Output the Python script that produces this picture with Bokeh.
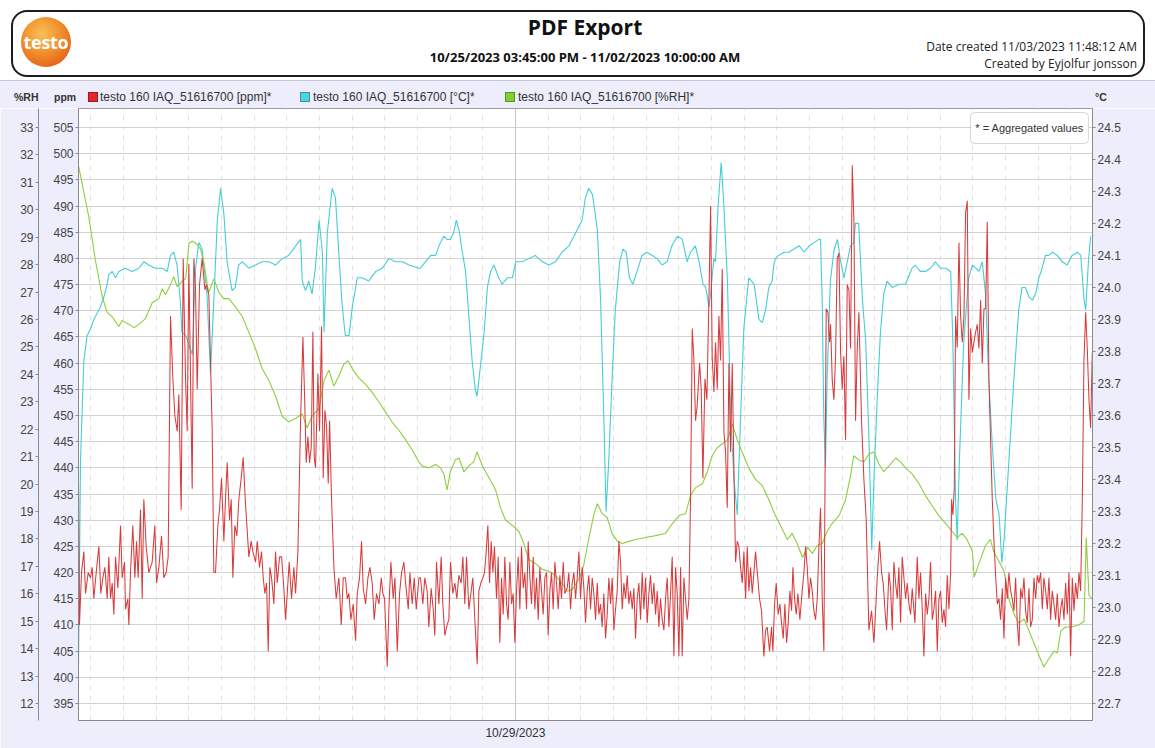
from bokeh.plotting import figure
from bokeh.models import (Range1d, LinearAxis, SingleIntervalTicker, FixedTicker,
                          PrintfTickFormatter, Label, BoxAnnotation, Div)
from bokeh.layouts import column
from bokeh.embed import file_html
from bokeh.resources import INLINE

# ---------------- data (x = hours since 10/25/2023 03:45 PM) ----------------
ppm_points = [
(0.0,437),(0.18,410),(0.55,420),(0.98,424),(1.29,416),(1.78,420),(2.2,419),(2.51,421),(2.82,415),(3.25,420),
(3.74,425),(4.1,416),(4.47,419),(4.84,421),(5.27,415),(5.57,423),(5.88,415),(6.19,418),(6.49,412),(6.8,423),
(7.23,417),(7.72,429),(8.02,419),(8.45,422),(8.64,413),(9.06,415),(9.25,410),(9.55,420),(9.98,429),(10.35,419),
(10.66,426),(10.96,419),(11.39,432),(11.7,415),(12.0,434),(12.43,425),(12.92,420),(13.53,422),(14.02,429),(14.33,418),
(14.76,421),(15.25,427),(15.68,419),(16.1,420),(16.47,423),(16.9,469),(17.33,457),(17.7,450),(18.13,447),(18.43,454),
(18.86,432),(19.23,480),(19.66,457),(19.96,447),(20.27,479),(20.58,457),(20.88,436),(21.19,480),(21.5,474),(21.8,455),
(22.23,475),(22.72,480),(23.21,474),(23.52,475),(23.94,473),(24.25,460),(24.56,447),(24.86,420),(25.17,420),(25.6,429),
(25.9,432),(26.27,438),(26.7,426),(27.0,434),(27.31,441),(27.74,430),(28.05,434),(28.35,419),(28.72,429),(29.09,427),
(29.46,434),(29.88,438),(30.25,442),(30.68,433),(30.99,428),(31.29,423),(31.72,426),(32.03,424),(32.52,422),(32.83,426),
(33.25,421),(33.62,424),(33.93,419),(34.23,416),(34.54,418),(34.85,405),(35.15,421),(35.46,419),(35.89,414),(36.19,424),
(36.5,418),(36.93,423),(37.3,423),(37.72,417),(38.03,411),(38.4,417),(38.7,422),(39.13,415),(39.56,421),(39.87,416),
(40.3,424),(40.79,449),(41.22,465),(41.52,454),(41.83,441),(42.13,446),(42.44,441),(42.75,444),(43.05,466),(43.3,442),
(43.54,440),(43.97,458),(44.28,447),(44.64,467),(44.95,438),(45.26,451),(45.56,448),(45.87,437),(46.12,449),(46.48,434),
(46.91,421),(47.34,415),(47.83,419),(48.26,410),(48.63,419),(49.05,419),(49.36,415),(49.67,416),(50.03,411),(50.46,414),
(50.89,407),(51.2,416),(51.62,419),(51.99,426),(52.3,417),(52.73,414),(53.16,419),(53.52,421),(53.95,418),(54.32,411),
(54.75,416),(55.18,414),(55.61,419),(55.91,416),(56.22,415),(56.71,402),(57.01,413),(57.38,422),(57.81,415),(58.12,419),
(58.55,405),(58.97,416),(59.34,420),(59.77,422),(60.08,418),(60.57,413),(60.87,420),(61.3,414),(61.67,419),(62.04,413),
(62.53,419),(62.82,419),(63.25,414),(63.61,419),(64.04,416.5),(64.35,409.6),(64.78,417),(65.15,413),(65.45,408),(65.76,422),
(66.19,414),(66.62,423),(66.92,414),(67.29,408),(67.72,410),(68.02,411),(68.33,422),(68.76,416),(69.13,418),(69.49,415),
(69.86,419.5),(70.29,418),(70.6,423),(70.96,414),(71.27,423),(71.7,413),(72.07,416),(72.43,419),(72.8,411),(73.23,402.5),
(73.54,416.5),(73.9,418),(74.27,419),(74.58,420),(74.88,424),(75.19,429),(75.5,418),(75.8,426),(76.11,420),(76.41,425),
(76.78,415),(77.09,423),(77.39,406.6),(77.7,419),(78.01,412),(78.31,423),(78.62,414),(78.92,411),(79.23,422),(79.54,414),
(79.84,416),(80.15,406.6),(80.46,416.5),(80.76,423),(81.07,413),(81.37,425),(81.68,417),(81.99,420),(82.29,413),(82.6,426),
(82.91,419),(83.21,414),(83.52,423),(83.82,413),(84.13,419),(84.44,411),(84.74,421),(85.05,416.5),(85.35,412),(85.66,419),
(85.97,420),(86.27,408),(86.58,416.5),(86.89,420),(87.19,413),(87.5,422),(87.8,418),(88.11,413),(88.42,419.5),(88.72,415),
(89.03,422),(89.34,416),(89.76,417),(90.07,420),(90.38,413),(90.68,418),(90.99,420),(91.3,415),(91.6,419),(91.91,424),
(92.21,415),(92.52,421),(92.83,417),(93.13,410.4),(93.44,416.5),(93.74,419.5),(94.05,413),(94.36,419),(94.66,416),(94.97,411),
(95.28,418),(95.58,412),(95.89,414),(96.19,409.6),(96.5,416),(96.81,407.4),(97.11,412),(97.42,419),(97.73,414),(98.03,419),
(98.34,409),(98.64,413),(98.95,416.5),(99.26,426),(99.56,422),(99.87,413),(100.18,418),(100.48,415),(100.79,419.5),(101.09,414),
(101.4,416.5),(101.71,413),(102.01,417),(102.32,407.4),(102.62,415),(102.93,418),(103.24,411),(103.54,420),(103.85,413),(104.16,419),
(104.46,410.4),(104.77,416),(105.07,419.5),(105.38,414),(105.69,418),(105.99,412),(106.3,416.5),(106.61,409.6),(106.91,415),(107.22,411),
(107.52,409),(107.83,415),(108.14,419),(108.44,409.6),(108.75,416),(109.05,423),(109.36,404),(109.67,421),(109.97,416),(110.28,404),
(110.59,421),(110.89,404),(111.2,419),(111.5,415),(111.81,411),(112.12,415),(112.42,434),(112.73,466.6),(113.04,460.5),(113.34,449),
(113.65,452),(114.08,460),(114.38,455),(114.69,438),(115.06,457),(115.42,453),(115.79,472),(116.1,490),(116.4,461),(116.71,454.5),
(117.01,464),(117.32,455),(117.63,469),(117.93,460.5),(118.24,478),(118.55,447),(118.85,443),(119.16,432.4),(119.47,460),(119.77,443),
(120.08,460),(120.38,440),(120.69,422),(121.0,426),(121.3,425),(121.61,421),(121.92,418),(122.22,424),(122.53,415),(122.83,425),
(123.14,416.5),(123.45,421),(123.75,416),(124.36,424),(125.09,415),(125.46,412.7),(125.89,404),(126.2,409),(126.5,409.6),(126.93,405),
(127.3,409.6),(127.54,405),(127.85,414),(128.16,418),(128.52,412),(128.83,414),(129.14,410.4),(129.44,407.4),(129.75,414),(130.06,406.6),
(130.36,410.4),(130.67,416.5),(130.97,412.7),(131.22,421),(131.53,415),(131.83,412),(132.14,416),(132.5,411),(132.93,416.5),(133.24,420),
(133.55,425),(133.85,421),(134.16,415),(134.46,419),(134.77,416.5),(135.08,412.7),(135.38,411),(135.69,415),(136.0,425),(136.3,432.4),
(136.61,415),(136.91,405),(137.1,434),(137.34,470.4),(137.65,469.7),(137.96,464),(138.14,467.4),(138.45,456.7),(138.75,453),(139.06,461.3),
(139.36,480),(139.67,481),(139.98,462),(140.28,455),(140.59,461.3),(140.89,445.3),(141.2,475),(141.51,474),(141.81,462.8),(142.12,497.8),
(142.43,487),(142.73,449),(143.04,462.8),(143.34,469.7),(143.83,449),(144.26,437.8),(144.69,430),(145.18,409),(145.67,412.7),(146.1,406.6),
(146.41,412.7),(146.71,419),(147.14,426),(147.51,420),(147.81,418),(148.12,413),(148.43,409),(148.86,420),(149.16,417),(149.47,409),
(149.77,422),(150.08,418),(150.39,415),(150.69,421),(151.0,410.4),(151.3,423),(151.61,419),(151.92,415),(152.22,418),(152.53,414),
(152.84,412),(153.14,417),(153.63,410.4),(154.06,423),(154.37,415),(154.67,420),(154.98,413),(155.29,404),(155.59,416),(155.9,412),
(156.2,415),(156.51,422),(156.82,411),(157.12,413),(157.43,416.5),(157.74,405),(158.04,415),(158.35,416.5),(158.65,410.4),(158.96,413),
(159.27,409.6),(159.57,419.5),(159.88,413),(160.19,420),(160.37,434),(160.61,431),(160.86,436),(161.1,469),(161.41,463),(161.72,483),
(162.02,469),(162.33,464),(162.64,469),(162.94,488.7),(163.25,491),(163.55,453),(163.86,466.6),(164.17,462),(164.47,464),(164.78,465.9),
(165.08,467.4),(165.39,462.8),(165.7,472),(166.0,460),(166.31,470.4),(166.62,470.4),(166.92,487),(167.23,456.7),(167.53,445.3),(167.84,434),
(168.15,426),(168.45,419.5),(168.76,414),(169.07,415),(169.37,411),(169.68,417),(169.98,407.4),(170.29,419),(170.6,415),(170.9,420),
(171.21,416.5),(171.51,415),(171.82,412.7),(172.13,419),(172.43,410.4),(172.74,406),(173.05,417),(173.35,415),(173.66,419),(173.96,412.7),
(174.27,410.4),(174.58,417),(174.88,409.6),(175.19,411),(175.5,419),(175.8,415),(176.11,419.5),(176.41,418),(176.72,420),(177.03,413),
(177.33,419),(177.64,416.5),(177.95,413),(178.25,419),(178.56,411),(178.86,416.5),(179.17,414),(179.48,411),(179.78,416),(180.09,409.6),
(180.4,413),(180.7,415),(181.01,411),(181.31,418),(181.62,412),(181.93,420),(182.23,404),(182.54,419),(182.85,412.7),(183.15,418),
(183.46,415),(183.77,420),(184.07,416.5),(184.38,434),(184.68,460.5),(184.99,469.7),(185.29,462.8),(185.6,453),(185.9,447.6),(186.21,462),
]

temp_points = [
(0.0,22.81),(0.37,23.46),(0.98,23.77),(1.59,23.85),(2.2,23.87),(2.82,23.9),(3.43,23.92),(4.04,23.94),(4.65,23.97),(5.27,24.01),
(5.57,24.04),(6.2,24.05),(6.8,24.03),(7.41,24.05),(8.63,24.06),(9.86,24.05),(11.08,24.06),(12.0,24.08),(12.9,24.07),(14.1,24.06),
(15.4,24.06),(16.3,24.05),(16.9,24.1),(17.5,24.11),(18.1,24.07),(18.7,23.96),(19.0,23.86),(19.7,23.85),(20.3,23.82),(20.9,23.79),
(21.5,24.06),(22.1,24.14),(22.7,24.12),(23.6,23.98),(24.25,23.73),(24.86,23.96),(25.5,24.21),(26.1,24.31),(26.7,24.23),(27.3,24.08),
(28.2,23.99),(28.8,24.0),(29.4,24.07),(30.1,24.08),(31.3,24.06),(32.5,24.07),(33.7,24.08),(34.96,24.08),(36.2,24.07),(37.4,24.09),
(38.6,24.1),(39.9,24.13),(40.8,24.15),(41.1,24.02),(41.7,23.99),(42.3,24.02),(42.9,23.98),(43.5,24.06),(44.2,24.21),(44.8,24.11),
(45.1,23.86),(45.7,24.17),(46.6,24.31),(47.2,24.28),(47.8,24.11),(48.4,23.95),(49.0,23.85),(49.7,23.85),(50.3,23.94),(51.2,24.03),
(52.1,24.03),(53.3,24.02),(54.6,24.05),(55.8,24.06),(57.0,24.09),(58.2,24.08),(59.5,24.08),(60.7,24.07),(62.5,24.06),(62.8,24.06),
(63.7,24.08),(64.7,24.1),(65.6,24.1),(66.2,24.13),(67.1,24.16),(67.7,24.15),(68.3,24.15),(68.9,24.17),(69.4,24.21),(69.9,24.18),
(70.5,24.11),(71.1,24.05),(71.7,23.91),(72.3,23.77),(72.9,23.68),(73.2,23.66),(73.8,23.75),(74.5,23.86),(75.1,24.0),(75.7,24.05),
(76.3,24.07),(77.2,24.03),(77.8,24.01),(78.8,24.03),(79.7,24.03),(80.3,24.08),(81.5,24.08),(82.7,24.09),(83.9,24.1),(85.2,24.08),
(86.4,24.07),(87.6,24.08),(88.8,24.11),(90.1,24.13),(91.3,24.17),(92.5,24.21),(93.1,24.28),(93.7,24.31),(94.4,24.29),(95.3,24.18),
(95.9,23.96),(96.5,23.59),(96.9,23.3),(97.4,23.46),(98.0,23.71),(98.6,23.93),(99.4,24.08),(100.0,24.12),(100.6,24.11),(101.2,24.03),
(101.8,24.01),(102.6,24.05),(103.5,24.1),(104.4,24.11),(105.4,24.1),(106.3,24.09),(107.2,24.07),(108.1,24.08),(109.0,24.13),(110.0,24.16),
(110.9,24.15),(111.8,24.08),(112.4,24.11),(113.3,24.13),(114.0,24.08),(114.7,24.01),(115.2,24.0),(115.8,23.94),(116.1,23.98),(116.7,24.09),
(117.0,24.08),(117.5,24.26),(118.05,24.39),(118.5,24.27),(119.2,24.02),(119.8,23.59),(120.4,23.4),(121.0,23.29),(121.6,23.59),(122.2,23.87),
(123.1,24.03),(124.1,24.01),(124.97,23.9),(125.6,23.89),(126.2,23.93),(126.8,24.0),(127.4,24.02),(127.7,24.07),(128.0,24.09),(128.6,24.1),
(129.6,24.11),(130.5,24.11),(131.4,24.12),(132.4,24.13),(133.3,24.11),(134.2,24.13),(135.1,24.14),(136.0,24.15),(136.3,24.15),(136.6,23.96),
(136.9,23.59),(137.2,23.44),(137.5,23.71),(138.1,24.02),(138.8,24.12),(139.4,24.15),(140.0,24.08),(140.6,24.03),(141.2,24.08),(141.8,24.13),
(142.4,24.14),(142.7,24.2),(143.3,24.2),(144.0,23.96),(144.6,23.83),(145.2,23.52),(145.7,23.18),(146.1,23.4),(146.7,23.65),(147.3,23.86),
(147.9,23.98),(148.5,24.02),(149.5,24.0),(150.7,24.01),(151.9,24.01),(153.1,24.06),(153.7,24.07),(154.6,24.05),(155.6,24.05),(156.5,24.06),
(157.4,24.08),(158.3,24.06),(159.3,24.06),(160.2,24.05),(160.6,23.83),(161.1,23.34),(161.4,23.21),(161.8,23.46),(162.6,23.83),(163.5,24.03),
(164.2,24.07),(164.8,24.06),(165.4,24.05),(166.0,24.08),(166.6,23.98),(167.2,23.71),(167.9,23.49),(168.5,23.34),(169.1,23.29),(169.6,23.14),
(170.0,23.21),(170.9,23.46),(171.8,23.71),(172.7,23.93),(173.3,24.0),(173.9,24.0),(174.6,23.97),(175.2,23.96),(175.8,23.98),(176.4,24.03),
(177.0,24.06),(177.6,24.1),(178.2,24.1),(178.9,24.11),(179.8,24.1),(180.7,24.08),(181.6,24.07),(182.5,24.1),(183.5,24.11),(184.1,24.1),
(184.7,23.96),(185.0,23.93),(185.5,24.08),(185.9,24.16),
]

rh_points = [
(0.06,31.55),(1.9,29.73),(3.12,28.14),(4.35,26.83),(5.27,26.25),(6.2,26.1),(7.41,25.74),(8.0,25.96),(8.63,25.89),(9.5,25.8),
(10.16,25.7),(11.08,25.82),(12.3,26.03),(13.53,26.61),(14.76,26.76),(15.4,27.12),(15.98,26.9),(16.9,27.27),(17.5,27.56),(18.1,27.2),
(19.04,27.4),(19.7,27.5),(20.3,28.79),(20.9,28.85),(21.5,28.79),(22.4,28.57),(23.0,28.1),(23.9,26.98),(24.86,27.48),(25.8,26.98),
(26.7,26.76),(27.6,26.76),(28.8,26.47),(30.1,26.1),(31.3,25.53),(32.5,24.94),(33.7,24.22),(34.96,23.78),(36.2,23.2),(37.4,22.48),
(38.6,22.26),(39.9,22.4),(41.1,22.55),(42.0,22.04),(42.9,22.48),(44.2,22.77),(45.1,23.78),(46.0,24.15),(46.9,23.57),(47.8,23.93),
(48.7,24.36),(49.5,24.5),(50.3,24.2),(51.5,23.86),(52.7,23.64),(53.9,23.35),(55.2,22.99),(56.4,22.62),(57.6,22.26),(58.8,21.97),
(60.1,21.61),(61.3,21.24),(62.5,20.81),(63.1,20.66),(64.4,20.59),(65.6,20.71),(66.5,20.59),(67.1,20.37),(67.7,19.79),(68.3,20.45),
(69.2,20.88),(69.9,20.95),(70.8,20.45),(71.7,20.66),(72.6,20.81),(73.2,21.17),(74.2,20.66),(75.4,20.23),(76.6,19.79),(77.5,19.14),
(78.4,18.7),(79.7,18.49),(80.9,18.27),(81.8,17.83),(82.7,17.25),(83.9,17.11),(85.2,16.89),(86.4,16.82),(87.6,16.67),(88.8,16.38),
(89.8,16.09),(90.7,16.16),(91.9,16.53),(92.8,17.04),(93.7,17.98),(94.7,18.92),(95.3,19.28),(96.2,18.92),(97.1,18.78),(98.0,18.2),
(99.0,17.91),(99.9,17.83),(101.1,17.91),(102.3,17.98),(104.2,18.05),(106.0,18.12),(107.8,18.2),(109.1,18.56),(110.3,18.85),(111.5,18.92),
(112.4,19.57),(113.3,19.86),(114.6,20.01),(115.5,20.45),(116.4,21.03),(117.3,21.32),(118.2,21.46),(119.2,21.61),(120.1,22.19),(121.0,21.61),
(121.9,21.17),(123.1,20.59),(124.4,20.16),(125.6,19.94),(126.8,19.43),(128.0,18.85),(129.3,18.34),(130.2,17.98),(131.1,18.2),(132.0,17.83),
(133.0,17.32),(133.9,17.69),(134.8,17.47),(135.7,17.76),(136.6,17.83),(137.5,18.27),(138.4,18.56),(139.7,18.85),(140.9,19.43),(141.8,20.3),
(142.4,21.03),(143.3,20.88),(144.3,20.81),(145.2,21.1),(146.1,21.17),(147.0,20.74),(147.9,20.45),(148.9,20.66),(150.1,20.95),(151.0,20.81),
(151.9,20.59),(153.1,20.37),(154.4,20.01),(155.6,19.57),(156.8,19.21),(158.0,18.85),(159.3,18.56),(160.5,18.27),(161.4,18.05),(162.3,18.2),
(163.2,17.98),(164.2,17.54),(164.5,16.6),(165.4,17.11),(166.6,17.76),(167.5,17.98),(168.1,17.54),(169.1,17.18),(170.0,16.82),(170.9,15.8),
(171.8,15.29),(172.7,14.93),(173.7,15.08),(174.6,14.64),(175.5,14.2),(176.4,13.77),(177.3,13.33),(178.2,13.62),(179.2,13.91),(179.8,13.84),
(180.4,14.64),(181.3,14.79),(182.5,14.79),(183.7,14.86),(184.7,15.0),(185.1,18.05),(185.6,15.95),(186.2,15.8),
]

series_labels = ["testo 160 IAQ_51616700 [ppm]*",
                 "testo 160 IAQ_51616700 [°C]*",
                 "testo 160 IAQ_51616700 [%RH]*"]
axis_titles = ["%RH", "ppm", "°C"]
x_end_hours = 186.25           # 10/25 03:45 PM -> 11/02 10:00 AM
x_major_tick = 80.25           # 10/29/2023 00:00
x_major_label = "10/29/2023"
ppm_range = (391.75, 508.63)
rh_range = (11.38, 33.69)
temp_range = (22.647, 24.559)

logo_text = "testo"
title_text = "PDF Export"
period_text = "10/25/2023 03:45:00 PM - 11/02/2023 10:00:00 AM"
created_text = "Date created 11/03/2023 11:48:12 AM"
author_text = "Created by Eyjolfur jonsson"
note_text = "* = Aggregated values"

# ---------------- styling ----------------
W = 1155
LAV = "#EDEDFB"
C_PPM, C_TEMP, C_RH = "#D93B3D", "#43CFD6", "#8DCF3E"
SWATCH = [("#E3262B", "#A31818"), ("#52D3DB", "#2B9AA1"), ("#82CF35", "#4F9A1C")]
AX_FONT = "Liberation Sans"
HD_FONT = "Open Sans"

# ---------------- header + legend strip (HTML) ----------------
sw_left = [88, 300, 505]
txt_left = [100, 313, 518]
legend_html = ""
for i in range(3):
    fc, lc = SWATCH[i]
    legend_html += (
        f'<div style="position:absolute;left:{sw_left[i]}px;top:92px;width:10px;height:10px;'
        f'box-sizing:border-box;background:{fc};border:1px solid {lc};"></div>'
        f'<div style="position:absolute;left:{txt_left[i]}px;top:89px;height:16px;line-height:16px;'
        f'font-family:\'{AX_FONT}\';font-size:12px;color:#333;white-space:nowrap;">{series_labels[i]}</div>')

header_html = f"""
<div style="position:relative;width:{W}px;height:108px;background:#ffffff;overflow:hidden;margin:0;padding:0;">
 <div style="position:absolute;left:0;top:80px;width:{W}px;height:28px;background:{LAV};
      box-sizing:border-box;border-top:1px solid #c4c4d2;"></div>
 <div style="position:absolute;left:11px;top:10px;width:1134px;height:67px;box-sizing:border-box;
      border:2px solid #1c1c1c;border-radius:16px;"></div>
 <div style="position:absolute;left:21px;top:17px;width:50px;height:50px;border-radius:50%;
      background:radial-gradient(circle at 42% 34%, #FBBE58 0%, #F39A33 35%, #EB7420 65%, #D95218 100%);"></div>
 <div style="position:absolute;left:17px;top:17px;width:58px;height:50px;line-height:50px;text-align:center;
      color:#ffffff;font-family:'{HD_FONT}';font-weight:bold;font-size:18px;letter-spacing:-0.3px;">{logo_text}</div>
 <div style="position:absolute;left:0;top:12px;width:1170px;height:30px;line-height:30px;text-align:center;
      font-family:'{HD_FONT}';font-weight:bold;font-size:21px;color:#111;">{title_text}</div>
 <div style="position:absolute;left:0;top:48px;width:1170px;height:18px;line-height:18px;text-align:center;
      font-family:'{HD_FONT}';font-weight:bold;font-size:13px;color:#111;">{period_text}</div>
 <div style="position:absolute;right:18px;top:39px;height:16px;line-height:16px;text-align:right;
      font-family:'{HD_FONT}';font-size:12px;color:#222;white-space:nowrap;">{created_text}</div>
 <div style="position:absolute;right:18px;top:56px;height:16px;line-height:16px;text-align:right;
      font-family:'{HD_FONT}';font-size:12px;color:#222;white-space:nowrap;">{author_text}</div>
 <div style="position:absolute;left:14px;top:90px;height:14px;line-height:14px;font-family:'{AX_FONT}';
      font-weight:bold;font-size:10.5px;color:#333;">{axis_titles[0]}</div>
 <div style="position:absolute;left:54px;top:90px;height:14px;line-height:14px;font-family:'{AX_FONT}';
      font-weight:bold;font-size:10.5px;color:#333;">{axis_titles[1]}</div>
 <div style="position:absolute;left:1095px;top:90px;height:14px;line-height:14px;font-family:'{AX_FONT}';
      font-weight:bold;font-size:10.5px;color:#333;">{axis_titles[2]}</div>
 {legend_html}
</div>"""
header = Div(text=header_html, width=W, height=108, margin=0)

# ---------------- main chart ----------------
p = figure(width=W, height=640, x_range=Range1d(0, x_end_hours),
           y_range=Range1d(*ppm_range), toolbar_location=None, output_backend="svg",
           min_border_left=78, min_border_right=63, min_border_top=0, min_border_bottom=28,
           background_fill_color="white", border_fill_color=LAV,
           outline_line_color="#9a9a9a", outline_line_width=1, margin=0)
p.extra_y_ranges = {"rh": Range1d(*rh_range), "temp": Range1d(*temp_range)}


def style_axis(ax, tick_out=3):
    ax.axis_line_color = "#8a8a8a"
    ax.major_tick_line_color = "#8a8a8a"
    ax.major_tick_in = 0
    ax.major_tick_out = tick_out
    ax.minor_tick_in = 0
    ax.minor_tick_out = 0
    ax.major_label_text_font = AX_FONT
    ax.major_label_text_font_size = "12px"
    ax.major_label_text_color = "#444444"
    ax.major_label_standoff = 2


# x axis
minor = [2.25 + 6 * i for i in range(31) if abs(2.25 + 6 * i - x_major_tick) > 0.01]
p.xaxis.ticker = FixedTicker(ticks=[x_major_tick], minor_ticks=minor)
p.xaxis.major_label_overrides = {x_major_tick: x_major_label}
style_axis(p.xaxis[0], tick_out=0)
p.xaxis.major_label_standoff = 5
p.xaxis.major_label_text_color = "#333333"

# ppm axis (left, next to frame)
p.yaxis.ticker = SingleIntervalTicker(interval=5, num_minor_ticks=0)
style_axis(p.yaxis[0])
p.yaxis.axis_label = " "
p.yaxis.axis_label_text_font_size = "2px"
p.yaxis.axis_label_standoff = 7

# %RH axis (outer left)
ax_rh = LinearAxis(y_range_name="rh", ticker=SingleIntervalTicker(interval=1, num_minor_ticks=0))
style_axis(ax_rh)
p.add_layout(ax_rh, "left")

# °C axis (right)
ax_t = LinearAxis(y_range_name="temp", ticker=SingleIntervalTicker(interval=0.1, num_minor_ticks=0),
                  formatter=PrintfTickFormatter(format="%.1f"))
style_axis(ax_t)
p.add_layout(ax_t, "right")

# grids
p.ygrid.grid_line_color = "#d2d2d2"
p.xgrid.grid_line_color = "#c4c4c4"
p.xgrid.minor_grid_line_color = "#e2e2e2"
p.xgrid.minor_grid_line_dash = "5 5"

# series
p.line([t for t, v in temp_points], [v for t, v in temp_points], y_range_name="temp",
       line_color=C_TEMP, line_width=1.1)
p.line([t for t, v in rh_points], [v for t, v in rh_points], y_range_name="rh",
       line_color=C_RH, line_width=1.1)
p.line([t for t, v in ppm_points], [v for t, v in ppm_points],
       line_color=C_PPM, line_width=1.05)

# aggregated note
note = BoxAnnotation(left=163.85, right=185.5, bottom=501.94, top=507.86, fill_color="white",
                     fill_alpha=1, line_color="#7a7a7a", line_width=1)
try:
    note.border_radius = 4
except Exception:
    pass
p.add_layout(note)
p.add_layout(Label(x=174.7, y=504.9, text=note_text, text_align="center", text_baseline="middle",
                   text_font=AX_FONT, text_font_size="11px", text_color="#333333"))

layout = column(header, p, spacing=0)
open("out.html", "w").write(file_html(layout, INLINE))
